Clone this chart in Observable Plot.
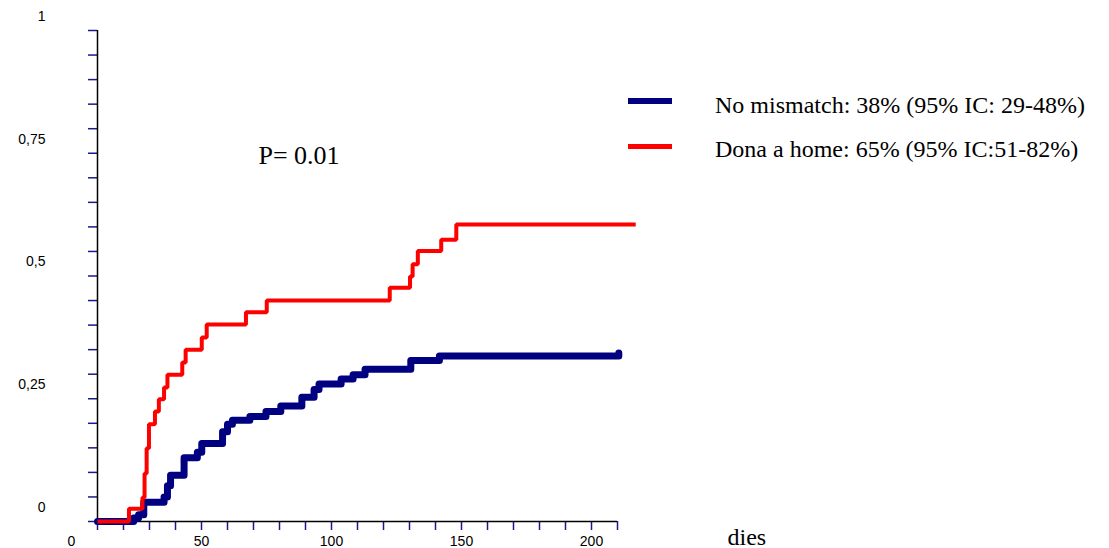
<!DOCTYPE html>
<html>
<head>
<meta charset="utf-8">
<script src="https://cdn.jsdelivr.net/npm/d3@7"></script>
<script src="https://cdn.jsdelivr.net/npm/@observablehq/plot@0.6"></script>
<style>
  html, body { margin: 0; padding: 0; background: #fff; }
  #wrap { position: relative; width: 1109px; height: 548px; }
  .legbar { position: absolute; left: 628px; width: 44px; }
  .legtxt { position: absolute; left: 715px; font-family: "Liberation Serif", "Times New Roman", serif; font-size: 24px; line-height: 24px; white-space: pre; color: #000; }
</style>
</head>
<body>
<div id="wrap"></div>
<script>
// ---- data ----
const seriesNames = ["No mismatch: 38% (95% IC: 29-48%)", "Dona a home: 65% (95% IC:51-82%)"];

const blueTimes  = [10, 23.9, 25.8, 27.8, 35.6, 36.9, 38.1, 43.3, 48.4, 50.1, 58.1, 60.0, 61.9, 68.6, 74.8, 80.5, 88.6, 93.3, 95.2, 103.7, 108.3, 112.9, 130.5, 141.5, 210.5];
const blueValues = [0, 0.007, 0.014, 0.039, 0.050, 0.073, 0.094, 0.130, 0.141, 0.159, 0.183, 0.198, 0.206, 0.214, 0.224, 0.235, 0.253, 0.269, 0.280, 0.290, 0.299, 0.310, 0.328, 0.337, 0.343];

const redTimes  = [10, 22.1, 27.3, 28.1, 28.9, 29.8, 32.1, 33.6, 35.6, 36.9, 42.6, 43.9, 50.1, 52.0, 67.1, 75.1, 122.4, 130.2, 131.2, 133.2, 142.2, 148.0, 217.0];
const redValues = [0, 0.026, 0.049, 0.098, 0.149, 0.198, 0.224, 0.249, 0.273, 0.299, 0.324, 0.350, 0.375, 0.401, 0.426, 0.450, 0.476, 0.499, 0.524, 0.551, 0.574, 0.605, 0.605];

const xTickValues = d3.range(10, 211, 10);
const yTickValues = d3.range(0, 1.0001, 0.05);
const xLabelValues = [0, 50, 100, 150, 200];
const xLabelTexts  = ["0", "50", "100", "150", "200"];
const yLabelValues = [0, 0.25, 0.5, 0.75, 1];
const yLabelTexts  = ["0", "0,25", "0,5", "0,75", "1"];
const xTitle = "dies";
const pText = "P= 0.01";

const blue = blueTimes.map((t, i) => ({t, v: blueValues[i]}));
const red  = redTimes.map((t, i) => ({t, v: redValues[i]}));

const navy = "#000080";
const tickCol = "#1a1a8a";

const chart = Plot.plot({
  width: 1109,
  height: 548,
  marginLeft: 97,
  marginRight: 492,
  marginTop: 30,
  marginBottom: 27,
  style: { fontFamily: "'Liberation Sans', Arial, sans-serif", fontSize: "14px", background: "#fff", overflow: "visible" },
  x: { domain: [10, 210] },
  y: { domain: [0, 1] },
  marks: [
    Plot.axisX({ ticks: xTickValues, tickSize: 9, tickFormat: () => "", stroke: tickCol, strokeWidth: 1.5, label: null }),
    Plot.axisY({ ticks: yTickValues, tickSize: 9, tickFormat: () => "", stroke: tickCol, strokeWidth: 1.5, label: null }),
    Plot.ruleY([0], { stroke: "#000", strokeWidth: 1.5 }),
    Plot.ruleX([10], { stroke: "#000", strokeWidth: 1.5 }),
    Plot.text(xLabelValues, { x: d => d, text: (d, i) => xLabelTexts[i], frameAnchor: "bottom", dy: 20, lineAnchor: "middle", fill: "#000", fontSize: 14 }),
    Plot.text(yLabelValues, { y: d => d, text: (d, i) => yLabelTexts[i], frameAnchor: "left", dx: -52, dy: -14, textAnchor: "end", lineAnchor: "middle", fill: "#000", fontSize: 14 }),
    Plot.line(blue, { x: "t", y: "v", curve: "step-after", stroke: navy, strokeWidth: 7, strokeLinejoin: "round", strokeLinecap: "round" }),
    Plot.line(red, { x: "t", y: "v", curve: "step-after", stroke: "#ff0000", strokeWidth: 4, strokeLinejoin: "miter", strokeLinecap: "butt" }),
    Plot.text([pText], { frameAnchor: "top-left", dx: 161, dy: 125, textAnchor: "start", lineAnchor: "middle", fontFamily: "'Liberation Serif', 'Times New Roman', serif", fontSize: 26, fill: "#000" }),
    Plot.text([xTitle], { frameAnchor: "bottom-right", dx: 110, dy: 16, textAnchor: "start", lineAnchor: "middle", fontFamily: "'Liberation Serif', 'Times New Roman', serif", fontSize: 24, fill: "#000" })
  ]
});

const wrap = document.getElementById("wrap");
wrap.appendChild(chart);

// legend
const legendColors = [navy, "#ff0000"];
const barTops = [98, 144];
const barHeights = [6, 5];
const txtTops = [93, 137];
seriesNames.forEach((name, i) => {
  const bar = document.createElement("div");
  bar.className = "legbar";
  bar.style.top = barTops[i] + "px";
  bar.style.height = barHeights[i] + "px";
  bar.style.background = legendColors[i];
  wrap.appendChild(bar);
  const txt = document.createElement("div");
  txt.className = "legtxt";
  txt.style.top = txtTops[i] + "px";
  txt.textContent = name;
  wrap.appendChild(txt);
});
</script>
</body>
</html>
